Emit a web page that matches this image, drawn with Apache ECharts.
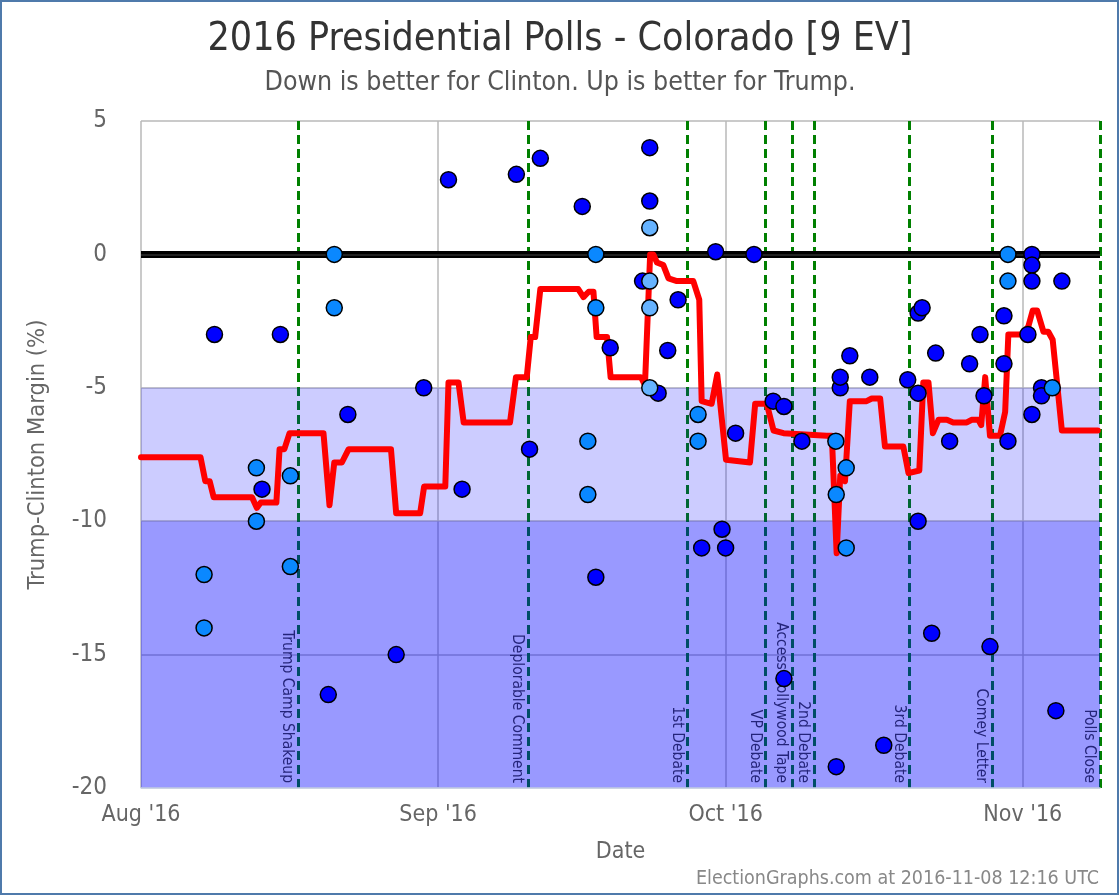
<!DOCTYPE html>
<html>
<head>
<meta charset="utf-8">
<script src="https://cdn.jsdelivr.net/npm/echarts@6/dist/echarts.min.js"></script>
<style>
html,body{margin:0;padding:0;background:#fff;}
#chart{width:1120px;height:896px;}
</style>
</head>
<body>
<div id="chart"></div>
<script>
// ---- DATA (dates as 'MM-DD HH' in 2016, UTC) ----
const xTickDates = ['08-01 00', '09-01 00', '10-01 00', '11-01 00'];
const xTickLabels = ["Aug '16", "Sep '16", "Oct '16", "Nov '16"];
const xMin = '08-01 00';
const xMax = '11-09 01.5';
const yTicks = [-20, -15, -10, -5, 0, 5];

const eventNames = ['Trump Camp Shakeup', 'Deplorable Comment', '1st Debate', 'VP Debate',
  'Access Hollywood Tape', '2nd Debate', '3rd Debate', 'Comey Letter', 'Polls Close'];
const eventDates = ['08-17 09', '09-10 09', '09-27 01', '10-05 04', '10-07 22',
  '10-10 05', '10-20 05', '10-28 19', '11-09 01'];

const pollsDark = [
  ['08-08 16', -3], ['08-13 15', -8.8], ['08-15 13', -3], ['08-20 13', -16.5],
  ['08-22 14', -6], ['08-27 15', -15], ['08-30 12', -5], ['09-02 02', 2.8],
  ['09-03 12', -8.8], ['09-09 04', 3], ['09-11 16', 3.6], ['09-10 13', -7.3],
  ['09-16 01', 1.8], ['09-18 23', -3.5], ['09-17 11', -12.1], ['09-23 02', 4],
  ['09-23 02', 2], ['09-22 08', -1], ['09-23 23', -5.2], ['09-26 01', -1.7],
  ['09-24 23', -3.6], ['09-28 12', -11], ['09-29 23', 0.1], ['09-30 15', -10.3],
  ['10-01 00', -11], ['10-02 01', -6.7], ['10-03 23', 0], ['10-05 23', -5.5],
  ['10-07 02', -5.7], ['10-07 02', -15.9], ['10-08 23', -7], ['10-12 13', -19.2],
  ['10-12 23', -5], ['10-12 23', -4.6], ['10-13 23', -3.8], ['10-16 01', -4.6],
  ['10-17 12', -18.4], ['10-20 00', -4.7], ['10-21 02', -5.2], ['10-21 02', -10],
  ['10-21 02', -2.2], ['10-21 12', -2], ['10-22 22', -3.7], ['10-22 12', -14.2],
  ['10-24 09', -7], ['10-26 11', -4.1], ['10-27 13', -3], ['10-27 23', -5.3],
  ['10-28 14', -14.7], ['10-30 01', -2.3], ['10-30 01', -4.1], ['10-30 11', -7],
  ['11-01 23', 0], ['11-01 23', -0.4], ['11-01 23', -1], ['11-01 13', -3],
  ['11-01 23', -6], ['11-02 23', -5], ['11-02 23', -5.3], ['11-05 02', -1],
  ['11-04 11', -17.1]
];
const pollsMid = [
  ['08-07 14', -12], ['08-07 14', -14], ['08-13 01', -8], ['08-13 01', -10],
  ['08-16 14', -8.3], ['08-16 14', -11.7], ['08-21 04', 0], ['08-21 04', -2],
  ['09-17 11', 0], ['09-17 11', -2], ['09-16 15', -7], ['09-16 15', -9],
  ['09-28 03', -6], ['09-28 03', -7], ['10-12 12', -7], ['10-12 13', -9],
  ['10-13 14', -8], ['10-13 14', -11], ['10-30 11', 0], ['10-30 11', -1],
  ['11-04 02', -5]
];
const pollsLight = [
  ['09-23 02', 1], ['09-23 02', -1], ['09-23 02', -2], ['09-23 02', -5]
];

const avgLine = [
  ['08-01 00', -7.6], ['08-07 05', -7.6], ['08-07 17', -8.5], ['08-08 04', -8.5],
  ['08-08 14', -9.1], ['08-12 14', -9.1], ['08-13 02', -9.5], ['08-13 12', -9.3],
  ['08-15 03', -9.3], ['08-15 11', -7.3], ['08-15 23', -7.3], ['08-16 12', -6.7],
  ['08-20 01', -6.7], ['08-20 16', -9.4], ['08-21 04', -7.8], ['08-21 23', -7.8],
  ['08-22 16', -7.3], ['08-27 02', -7.3], ['08-27 15', -9.7], ['08-30 03', -9.7],
  ['08-30 13', -8.7], ['09-01 18', -8.7], ['09-02 02', -4.8], ['09-03 03', -4.8],
  ['09-03 16', -6.3], ['09-08 12', -6.3], ['09-09 03', -4.6], ['09-10 06', -4.6],
  ['09-10 16', -3.1], ['09-11 03', -3.1], ['09-11 16', -1.3], ['09-15 15', -1.3],
  ['09-16 04', -1.6], ['09-16 17', -1.4], ['09-17 05', -1.4], ['09-17 13', -3.1],
  ['09-18 15', -3.1], ['09-19 00', -4.6], ['09-22 04', -4.6], ['09-22 14', -4.9],
  ['09-23 03', 0], ['09-23 11', 0], ['09-23 20', -0.3], ['09-24 12', -0.4],
  ['09-25 01', -0.9], ['09-25 22', -1.0], ['09-27 15', -1.0], ['09-28 06', -1.7],
  ['09-28 12', -5.5], ['09-29 13', -5.6], ['09-30 03', -4.5], ['10-01 01', -7.7],
  ['10-03 13', -7.8], ['10-04 02', -5.6], ['10-05 07', -5.6], ['10-06 00', -6.6],
  ['10-07 01', -6.7], ['10-11 13', -6.8], ['10-12 02', -6.8], ['10-12 14', -11.2],
  ['10-12 23', -8.3], ['10-13 11', -8.5], ['10-13 23', -5.5], ['10-15 17', -5.5],
  ['10-16 06', -5.4], ['10-17 03', -5.4], ['10-17 15', -7.2], ['10-19 13', -7.2],
  ['10-20 02', -8.2], ['10-21 05', -8.1], ['10-21 15', -4.8], ['10-22 04', -4.8],
  ['10-22 15', -6.7], ['10-23 05', -6.2], ['10-24 02', -6.2], ['10-24 18', -6.3],
  ['10-26 04', -6.3], ['10-26 16', -6.2], ['10-27 09', -6.2], ['10-27 16', -6.4],
  ['10-28 02', -4.6], ['10-28 14', -6.8], ['10-29 15', -6.8], ['10-30 04', -5.9],
  ['10-30 12', -3.0], ['11-01 01', -3.0], ['11-01 14', -2.7], ['11-02 01', -2.1],
  ['11-02 12', -2.1], ['11-03 04', -2.9], ['11-03 16', -2.9], ['11-04 03', -3.2],
  ['11-05 02', -6.6], ['11-08 20', -6.6]
];

const bandLight = [-10, -5];
const bandDark = [-20, -10];

// ---- helpers ----
function t(s) {
  const [md, h] = s.split(' ');
  const [m, d] = md.split('-').map(Number);
  const hh = parseFloat(h);
  return Date.UTC(2016, m - 1, d) + hh * 3600000;
}
const FONT = '"DejaVu Sans Condensed", "Liberation Sans Narrow", sans-serif';
const pts = arr => arr.map(p => [t(p[0]), p[1]]);
const tickTimes = xTickDates.map(t);

const chart = echarts.init(document.getElementById('chart'), null, {renderer: 'canvas'});
const yMin = yTicks[0], yMax = yTicks[yTicks.length - 1];
const eventPairs = () => eventNames.map((n, i) => [
  {name: n, coord: [t(eventDates[i]), yMax]},
  {coord: [t(eventDates[i]), yMin]}
]);

const option = {
  animation: false,
  textStyle: {fontFamily: FONT},
  title: {
    text: '2016 Presidential Polls - Colorado [9 EV]',
    subtext: 'Down is better for Clinton. Up is better for Trump.',
    left: 'center', top: 15, itemGap: 11,
    textStyle: {fontFamily: FONT, fontSize: 39, fontWeight: 'normal', color: '#333333'},
    subtextStyle: {fontFamily: FONT, fontSize: 26.5, color: '#555555'}
  },
  grid: {left: 141, right: 20, top: 121, bottom: 108, containLabel: false},
  xAxis: [{
    type: 'value', min: t(xMin), max: t(xMax),
    name: 'Date', nameLocation: 'middle', nameGap: 53,
    nameTextStyle: {fontFamily: FONT, fontSize: 23, color: '#666666'},
    axisLine: {show: false},
    axisTick: {show: false, customValues: tickTimes},
    axisLabel: {
      customValues: tickTimes, margin: 16, fontFamily: FONT, fontSize: 23, color: '#666666',
      formatter: v => { const i = tickTimes.indexOf(v); return i >= 0 ? xTickLabels[i] : ''; }
    },
    splitLine: {show: true, lineStyle: {color: '#b8b8b8', width: 1.5}},
    z: 0
  }, {
    type: 'value', min: t(xMin), max: t(xMax), position: 'bottom',
    axisLine: {show: true, lineStyle: {color: '#ccd6eb', width: 1.5}},
    axisTick: {show: false}, axisLabel: {show: false}, splitLine: {show: false},
    z: 10
  }],
  yAxis: {
    type: 'value', min: yMin, max: yMax, interval: 5,
    name: 'Trump-Clinton Margin (%)', nameLocation: 'middle', nameGap: 91,
    nameTextStyle: {fontFamily: FONT, fontSize: 23.5, color: '#666666'},
    axisLine: {show: false}, axisTick: {show: false},
    axisLabel: {margin: 34, fontFamily: FONT, fontSize: 24, color: '#666666'},
    splitLine: {show: true, lineStyle: {color: '#b8b8b8', width: 1.5}},
    z: 0
  },
  graphic: [
    {type: 'rect', shape: {x: 1, y: 1, width: 1117, height: 893},
     style: {fill: 'none', stroke: '#4f7aab', lineWidth: 2}, z: 100, silent: true},
    {type: 'text', right: 21, top: 869,
     style: {text: 'ElectionGraphs.com at 2016-11-08 12:16 UTC', fontSize: 19.5,
             fontFamily: FONT, fill: '#888888'}, silent: true}
  ],
  series: [
    { // event lines (under the bands)
      type: 'line', data: [], z: 1, silent: true,
      markLine: {
        z: 1, silent: true, symbol: ['none', 'none'], animation: false,
        lineStyle: {color: '#008000', width: 3, type: [9, 5]},
        label: {show: false},
        emphasis: {disabled: true},
        data: eventPairs()
      }
    },
    { // translucent bands
      type: 'line', data: [], z: 2, silent: true,
      markArea: {
        z: 2, silent: true, animation: false,
        data: [
          [{yAxis: bandLight[1], itemStyle: {color: 'rgba(0,0,255,0.2)'}}, {yAxis: bandLight[0]}],
          [{yAxis: bandDark[1], itemStyle: {color: 'rgba(0,0,255,0.4)'}}, {yAxis: bandDark[0]}]
        ]
      }
    },
    { // event labels (above bands, invisible line)
      type: 'line', data: [], z: 3, silent: true,
      markLine: {
        z: 3, silent: true, symbol: ['none', 'none'], animation: false,
        lineStyle: {color: 'rgba(0,0,0,0)', width: 1},
        label: {show: true, position: 'insideEndBottom', formatter: '{b}',
                fontFamily: FONT, fontSize: 15.5, color: '#24247a', distance: [5, 3]},
        emphasis: {disabled: true},
        data: eventPairs()
      }
    },
    { // zero line
      type: 'line', data: [], z: 3, silent: true,
      markLine: {
        z: 3, silent: true, symbol: ['none', 'none'], animation: false, label: {show: false},
        data: [
          {yAxis: 0, lineStyle: {color: '#000000', width: 7, type: 'solid'}},
          {yAxis: 0, lineStyle: {color: '#2e2e2e', width: 1.5, type: 'solid'}}
        ]
      }
    },
    {
      type: 'line', name: 'Average', data: pts(avgLine), z: 4,
      showSymbol: false, symbol: 'none', silent: true,
      lineStyle: {color: '#ff0000', width: 6, join: 'round', cap: 'round'}
    },
    {
      type: 'scatter', name: 'Polls', data: pts(pollsDark), z: 5, symbolSize: 16,
      itemStyle: {color: '#0000ff', borderColor: '#000000', borderWidth: 1.5, opacity: 1}
    },
    {
      type: 'scatter', name: 'Polls (b)', data: pts(pollsMid), z: 6, symbolSize: 16,
      itemStyle: {color: '#0a88ff', borderColor: '#000000', borderWidth: 1.5, opacity: 1}
    },
    {
      type: 'scatter', name: 'Polls (c)', data: pts(pollsLight), z: 7, symbolSize: 16,
      itemStyle: {color: '#66b3ff', borderColor: '#000000', borderWidth: 1.5, opacity: 1}
    }
  ]
};
chart.setOption(option);
</script>
</body>
</html>
